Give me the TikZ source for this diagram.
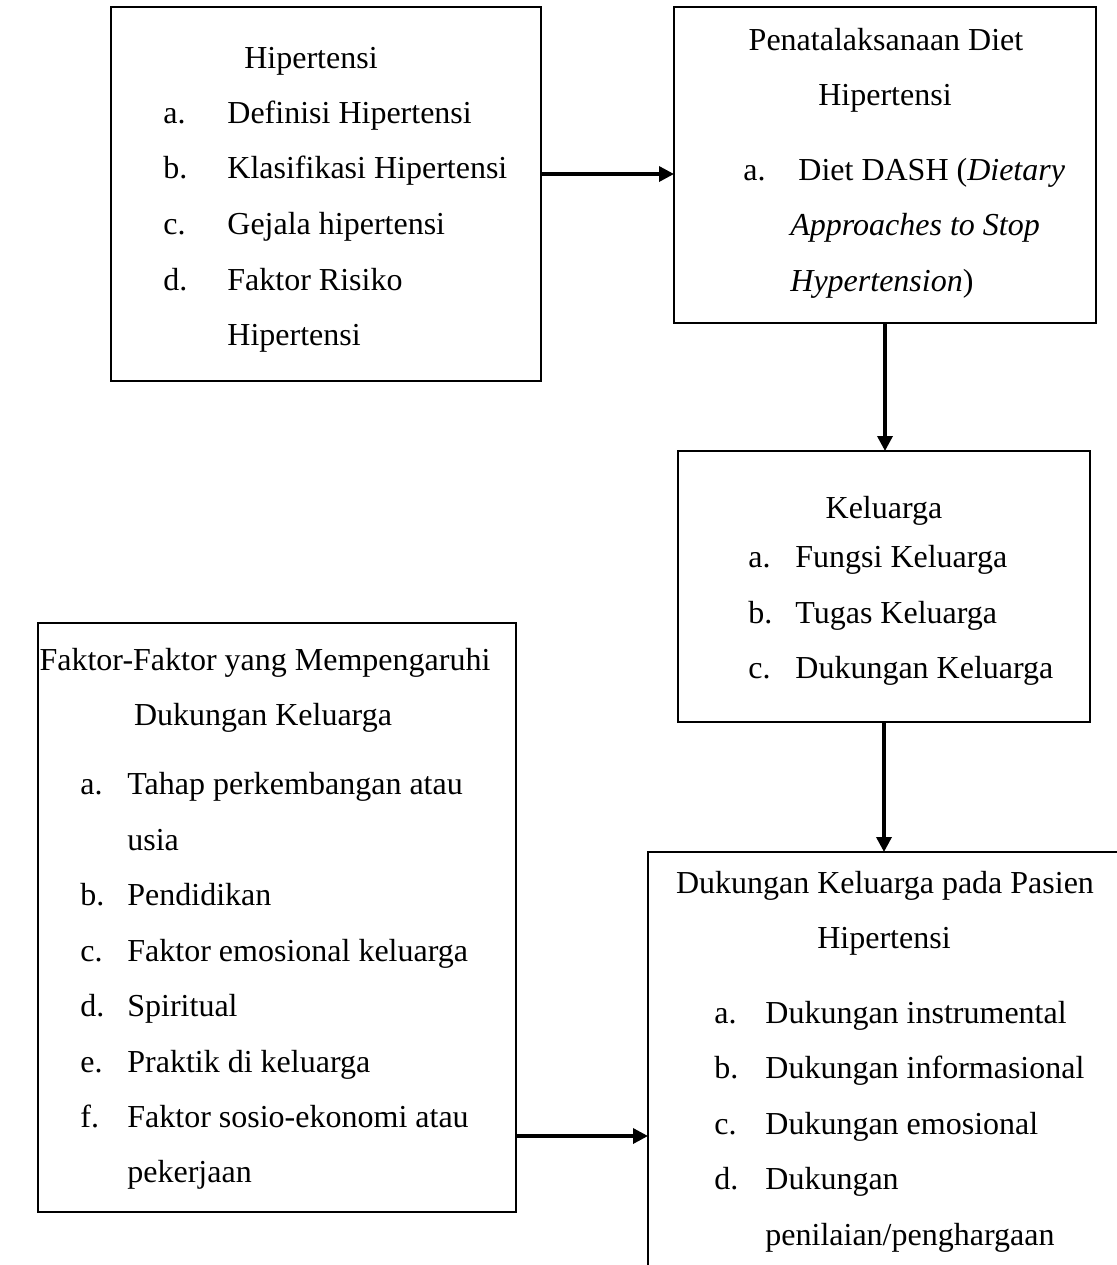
\documentclass[tikz,border=0pt]{standalone}
\usepackage{fontspec}
\setmainfont{Liberation Serif}
\usetikzlibrary{arrows.meta}
\begin{document}
\begin{tikzpicture}[x=0.5pt,y=-0.5pt,
  every node/.style={font=\fontsize{16}{18}\selectfont},
  box/.style={draw,line width=0.8pt,inner sep=0pt,outer sep=0pt},
  txt/.style={inner sep=0pt,anchor=mid west,yshift=-3pt},
  head/.style={inner sep=0pt,anchor=mid,yshift=-3pt},
  arr/.style={line width=1.7pt,-{Triangle[length=7.5pt,width=7.5pt]}}]
  \useasboundingbox (0,0) rectangle (1117,1265);
  \clip (0,0) rectangle (1117,1265);
  % boxes
  \node[box,minimum width=215pt,minimum height=187pt] (b1) at (326,194) {};
  \node[box,minimum width=211pt,minimum height=158pt] (b2) at (885,165) {};
  \node[box,minimum width=206pt,minimum height=135.5pt] (kel) at (884,586.5) {};
  \node[box,minimum width=239pt,minimum height=294.5pt] (fak) at (277,917.5) {};
  \node[box,minimum width=240pt,minimum height=215pt] (duk) at (888,1067) {};
  % Hipertensi
  \node[head] (h1) at (311,58) {Hipertensi};
  \node[txt] (h1a) at (163,113) {a.};  \node[txt] (h1at) at (227,113) {Definisi Hipertensi};
  \node[txt] (h1b) at (163,168) {b.};  \node[txt] (h1bt) at (227,168) {Klasifikasi Hipertensi};
  \node[txt] (h1c) at (163,224) {c.};  \node[txt] (h1ct) at (227,224) {Gejala hipertensi};
  \node[txt] (h1d) at (163,280) {d.};  \node[txt] (h1dt) at (227,280) {Faktor Risiko};
  \node[txt] (h1e) at (227,335) {Hipertensi};
  % Penatalaksanaan
  \node[head] (h2) at (886,40) {Penatalaksanaan Diet};
  \node[head] (h2b) at (885,95) {Hipertensi};
  \node[txt] (h2a) at (743,170) {a.};  \node[txt] (h2at) at (798,170) {Diet DASH (\textit{Dietary}};
  \node[txt] (h2c) at (790,225) {\textit{Approaches to Stop}};
  \node[txt] (h2d) at (790,281) {\textit{Hypertension})};
  % Keluarga
  \node[head] (h3) at (884,508) {Keluarga};
  \node[txt] (h3a) at (748,557) {a.};  \node[txt] (h3at) at (795,557) {Fungsi Keluarga};
  \node[txt] (h3b) at (748,613) {b.};  \node[txt] (h3bt) at (795,613) {Tugas Keluarga};
  \node[txt] (h3c) at (748,668) {c.};  \node[txt] (h3ct) at (795,668) {Dukungan Keluarga};
  % Faktor-faktor
  \node[head] (h4) at (265,660) {Faktor-Faktor yang Mempengaruhi};
  \node[head] (h4b) at (263,715) {Dukungan Keluarga};
  \node[txt] (h4a) at (80,784) {a.};   \node[txt] (h4at) at (127,784) {Tahap perkembangan atau};
  \node[txt] (h4a2) at (127,840) {usia};
  \node[txt] (h4c) at (80,895) {b.};   \node[txt] (h4ct) at (127,895) {Pendidikan};
  \node[txt] (h4d) at (80,951) {c.};   \node[txt] (h4dt) at (127,951) {Faktor emosional keluarga};
  \node[txt] (h4e) at (80,1006) {d.};  \node[txt] (h4et) at (127,1006) {Spiritual};
  \node[txt] (h4f) at (80,1062) {e.};  \node[txt] (h4ft) at (127,1062) {Praktik di keluarga};
  \node[txt] (h4g) at (80,1117) {f.};  \node[txt] (h4gt) at (127,1117) {Faktor sosio-ekonomi atau};
  \node[txt] (h4g2) at (127,1172) {pekerjaan};
  % Dukungan keluarga
  \node[head] (h5) at (885,883) {Dukungan Keluarga pada Pasien};
  \node[head] (h5b) at (884,938) {Hipertensi};
  \node[txt] (h5a) at (714,1013) {a.};  \node[txt] (h5at) at (765,1013) {Dukungan instrumental};
  \node[txt] (h5c) at (714,1068) {b.};  \node[txt] (h5ct) at (765,1068) {Dukungan informasional};
  \node[txt] (h5d) at (714,1124) {c.};  \node[txt] (h5dt) at (765,1124) {Dukungan emosional};
  \node[txt] (h5e) at (714,1179) {d.};  \node[txt] (h5et) at (765,1179) {Dukungan};
  \node[txt] (h5f) at (765,1235) {penilaian/penghargaan};
  % arrows
  \coordinate (a1) at (0,174);
  \coordinate (a4) at (0,1136);
  \draw[arr] (b1.east |- a1) -- (b2.west |- a1);
  \draw[arr] (b2.south) -- (b2.south |- kel.north);
  \draw[arr] (kel.south) -- (kel.south |- duk.north);
  \draw[arr] (fak.east |- a4) -- (duk.west |- a4);
\end{tikzpicture}
\end{document}
